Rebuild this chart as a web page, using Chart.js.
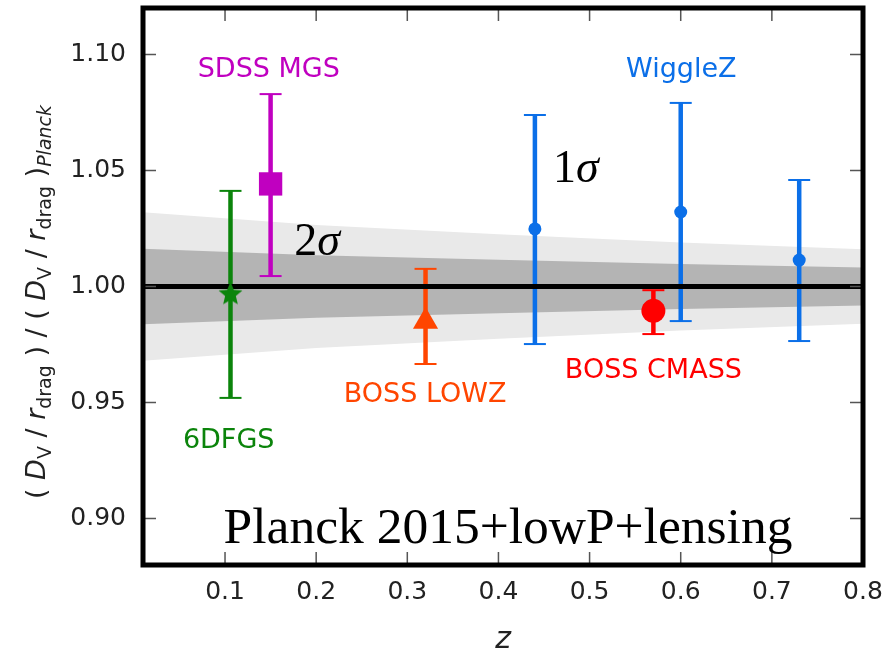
<!DOCTYPE html>
<html>
<head>
<meta charset="utf-8">
<script src="https://cdn.jsdelivr.net/npm/chart.js@4.4.1/dist/chart.umd.min.js"></script>
<style>
  html, body { margin: 0; padding: 0; background: #fff; }
  #wrap { width: 895px; height: 654px; }
</style>
</head>
<body>
<div id="wrap"><canvas id="chartBao" width="895" height="654"></canvas></div>
<script>
// axis ranges and ticks
const xRange = [0.01, 0.8];
const yRange = [0.88, 1.12];
const xTicks = [0.1, 0.2, 0.3, 0.4, 0.5, 0.6, 0.7, 0.8];
const yTicks = [0.90, 0.95, 1.00, 1.05, 1.10];

// BAO points: survey, redshift, ratio and error bar ends
const pointSurvey = ['6DFGS', 'SDSS MGS', 'BOSS LOWZ', 'BOSS CMASS', 'WiggleZ', 'WiggleZ', 'WiggleZ'];
const pointZ   = [0.106, 0.15, 0.32, 0.57, 0.44, 0.60, 0.73];
const pointVal = [0.9972, 1.0442, 0.9849, 0.9895, 1.0248, 1.0321, 1.0114];
const pointHi  = [1.0412, 1.0829, 1.0076, 0.9984, 1.0739, 1.0791, 1.0459];
const pointLo  = [0.9520, 1.0045, 0.9666, 0.9795, 0.9752, 0.9851, 0.9765];

// Planck 2015 band half widths (1 sigma, 2 sigma)
const bandZ = [0.01, 0.2, 0.4, 0.6, 0.8];
const band1 = [0.0163, 0.0135, 0.0115, 0.0097, 0.0082];
const band2 = [0.0320, 0.0265, 0.0225, 0.0190, 0.0161];

// text in the plot
const labels = [
    { text: 'SDSS MGS', x: 0.148, y: 1.0903, survey: 'SDSS MGS' },
    { text: '6DFGS', x: 0.104, y: 0.9304, survey: '6DFGS' },
    { text: 'BOSS LOWZ', x: 0.3196, y: 0.9502, survey: 'BOSS LOWZ' },
    { text: 'BOSS CMASS', x: 0.57, y: 0.9606, survey: 'BOSS CMASS' },
    { text: 'WiggleZ', x: 0.6006, y: 1.0903, survey: 'WiggleZ' }
];
const sigmaLabels = [
    { n: '2', x: 0.201, y: 1.0136 },
    { n: '1', x: 0.485, y: 1.045 }
];
const planckText = 'Planck 2015+lowP+lensing';

const surveyStyle = {
    '6DFGS':      { color: '#0b840b', marker: 'star', radius: 12.5 },
    'SDSS MGS':   { color: '#c000c0', marker: 'rect', radius: 16.5 },
    'BOSS LOWZ':  { color: '#ff4500', marker: 'triangle', radius: 14.5 },
    'BOSS CMASS': { color: '#ff0000', marker: 'circle', radius: 12 },
    'WiggleZ':    { color: '#0b6fe8', marker: 'circle', radius: 6.5 }
};

// filled five point star, Chart.js 'star' is only an asterisk
function starImage(color, r) {
    const c = document.createElement('canvas');
    c.width = c.height = Math.ceil(r * 2 + 2);
    const g = c.getContext('2d');
    const cx = c.width / 2, cy = c.height / 2 + r * 0.1;
    g.beginPath();
    for (let i = 0; i < 10; i++) {
        const rr = i % 2 === 0 ? r : r * 0.45;
        const a = -Math.PI / 2 + i * Math.PI / 5;
        g.lineTo(cx + rr * Math.cos(a), cy + rr * Math.sin(a));
    }
    g.closePath();
    g.fillStyle = color;
    g.fill();
    return c;
}

const datasets = [];
const noLine = 'rgba(0,0,0,0)';
// bands
datasets.push({ data: bandZ.map((z, i) => ({ x: z, y: 1 + band2[i] })), showLine: true, borderColor: noLine, pointRadius: 0, fill: '+1', backgroundColor: '#e9e9e9', order: 4 });
datasets.push({ data: bandZ.map((z, i) => ({ x: z, y: 1 - band2[i] })), showLine: true, borderColor: noLine, pointRadius: 0, fill: false, order: 4 });
datasets.push({ data: bandZ.map((z, i) => ({ x: z, y: 1 + band1[i] })), showLine: true, borderColor: noLine, pointRadius: 0, fill: '+1', backgroundColor: '#b4b4b4', order: 3 });
datasets.push({ data: bandZ.map((z, i) => ({ x: z, y: 1 - band1[i] })), showLine: true, borderColor: noLine, pointRadius: 0, fill: false, order: 3 });

// error bars
pointZ.forEach((z, i) => {
    const col = surveyStyle[pointSurvey[i]].color;
    datasets.push({
        data: [{ x: z, y: pointLo[i] }, { x: z, y: pointHi[i] }],
        showLine: true, borderColor: col, borderWidth: 4.5,
        pointStyle: 'line', pointRadius: 11, pointBorderWidth: 2, pointBorderColor: col,
        order: 2
    });
});

// reference line
datasets.push({ data: [{ x: xRange[0], y: 1 }, { x: xRange[1], y: 1 }], showLine: true, borderColor: '#000', borderWidth: 5, pointRadius: 0, order: 1 });

// markers
Object.keys(surveyStyle).forEach(name => {
    const st = surveyStyle[name];
    const pts = [];
    pointZ.forEach((z, i) => { if (pointSurvey[i] === name) pts.push({ x: z, y: pointVal[i] }); });
    datasets.push({
        label: name,
        data: pts,
        showLine: false,
        pointStyle: st.marker === 'star' ? starImage(st.color, st.radius) : st.marker,
        pointRadius: st.radius,
        pointBackgroundColor: st.color,
        pointBorderColor: st.color,
        pointBorderWidth: 0,
        order: 0
    });
});

const framePlugin = {
    id: 'frame',
    afterDatasetsDraw(chart) {
        const { ctx, chartArea: a, scales } = chart;
        ctx.save();
        ctx.strokeStyle = '#555';
        ctx.lineWidth = 1.5;
        const tl = 13;
        ctx.beginPath();
        xTicks.forEach(v => {
            const px = scales.x.getPixelForValue(v);
            ctx.moveTo(px, a.bottom); ctx.lineTo(px, a.bottom - tl);
            ctx.moveTo(px, a.top); ctx.lineTo(px, a.top + tl);
        });
        yTicks.forEach(v => {
            const py = scales.y.getPixelForValue(v);
            ctx.moveTo(a.left, py); ctx.lineTo(a.left + tl, py);
            ctx.moveTo(a.right, py); ctx.lineTo(a.right - tl, py);
        });
        ctx.stroke();
        ctx.strokeStyle = '#000';
        ctx.lineWidth = 5;
        ctx.strokeRect(a.left, a.top, a.right - a.left, a.bottom - a.top);
        ctx.restore();
    },
    afterDraw(chart) {
        const { ctx, chartArea: a, scales } = chart;
        const sx = scales.x, sy = scales.y;
        ctx.save();
        // survey names
        ctx.textAlign = 'center';
        ctx.textBaseline = 'alphabetic';
        ctx.font = '27px "DejaVu Sans"';
        labels.forEach(l => {
            ctx.fillStyle = surveyStyle[l.survey].color;
            ctx.fillText(l.text, sx.getPixelForValue(l.x), sy.getPixelForValue(l.y));
        });
        // sigma labels
        ctx.fillStyle = '#000';
        sigmaLabels.forEach(s => {
            ctx.font = '46px "Liberation Serif"';
            const w1 = ctx.measureText(s.n).width;
            ctx.font = 'italic 46px "Liberation Serif"';
            const w2 = ctx.measureText('\u03c3').width;
            const x0 = sx.getPixelForValue(s.x) - (w1 + w2) / 2;
            const y0 = sy.getPixelForValue(s.y);
            ctx.textAlign = 'left';
            ctx.font = '46px "Liberation Serif"';
            ctx.fillText(s.n, x0, y0);
            ctx.font = 'italic 46px "Liberation Serif"';
            ctx.fillText('\u03c3', x0 + w1, y0);
        });
        // Planck caption
        ctx.textAlign = 'center';
        ctx.font = '51.5px "Liberation Serif"';
        ctx.fillText(planckText, sx.getPixelForValue(0.4105), sy.getPixelForValue(0.8895));

        // x title
        ctx.font = 'italic 30px "DejaVu Sans"';
        ctx.fillStyle = '#222';
        ctx.fillText('z', (a.left + a.right) / 2, 648);

        // y title, rotated, with subscripts
        const parts = [
            ['( ', 'n'], ['D', 'i'], ['V', 's'], [' / ', 'n'], ['r', 'i'], ['drag', 's'], [' ) / ( ', 'n'],
            ['D', 'i'], ['V', 's'], [' / ', 'n'], ['r', 'i'], ['drag', 's'], [' )', 'n'], ['Planck', 'si']
        ];
        const fonts = {
            n: '27px "DejaVu Sans"', i: 'italic 27px "DejaVu Sans"',
            s: '19px "DejaVu Sans"', si: 'italic 19px "DejaVu Sans"'
        };
        let total = 0;
        parts.forEach(p => { ctx.font = fonts[p[1]]; total += ctx.measureText(p[0]).width; });
        ctx.translate(45, 302);
        ctx.rotate(-Math.PI / 2);
        ctx.textAlign = 'left';
        let px = -total / 2;
        parts.forEach(p => {
            ctx.font = fonts[p[1]];
            const dy = (p[1] === 's' || p[1] === 'si') ? 6 : 0;
            ctx.fillText(p[0], px, dy);
            px += ctx.measureText(p[0]).width;
        });
        ctx.restore();
    }
};

new Chart(document.getElementById('chartBao').getContext('2d'), {
    type: 'scatter',
    data: { datasets: datasets },
    options: {
        responsive: false,
        animation: false,
        events: [],
        layout: { autoPadding: false, padding: { top: 8, right: 32, left: 0, bottom: 0 } },
        plugins: { legend: { display: false }, tooltip: { enabled: false } },
        scales: {
            x: {
                type: 'linear', min: xRange[0], max: xRange[1],
                grid: { display: false, drawTicks: false },
                border: { display: false },
                ticks: {
                    font: { family: 'DejaVu Sans', size: 25 }, color: '#222', padding: 12,
                    maxRotation: 0, autoSkip: false,
                    callback: v => v.toFixed(1)
                },
                afterBuildTicks: s => { s.ticks = xTicks.map(v => ({ value: v })); },
                afterFit: s => { s.height = 89; s.paddingLeft = 0; s.paddingRight = 0; }
            },
            y: {
                type: 'linear', min: yRange[0], max: yRange[1],
                grid: { display: false, drawTicks: false },
                border: { display: false },
                ticks: {
                    font: { family: 'DejaVu Sans', size: 25 }, color: '#222', padding: 17,
                    autoSkip: false,
                    callback: v => v.toFixed(2)
                },
                afterBuildTicks: s => { s.ticks = yTicks.map(v => ({ value: v })); },
                afterFit: s => { s.width = 143; s.paddingTop = 0; s.paddingBottom = 0; }
            }
        }
    },
    plugins: [framePlugin]
});
</script>
</body>
</html>
